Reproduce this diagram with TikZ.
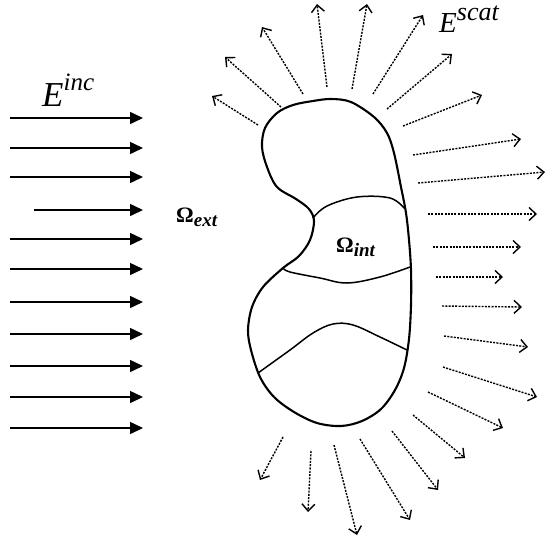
\documentclass[tikz,border=0pt]{standalone}
\usepackage{fontspec}
\newfontfamily\lblfont{Liberation Serif}
\usetikzlibrary{arrows.meta}
\newcommand{\supr}[2]{\raisebox{#1}{#2}}
\begin{document}
\begin{tikzpicture}[x=1pt,y=-1pt,
  inc/.style={line width=1.5pt,-{Triangle[length=13pt,width=12pt]}},
  scat/.style={line width=1.4pt,dash pattern=on 2pt off 1.3pt,-{Straight Barb[length=7pt,width=13pt,line width=1.4pt]}},
  body/.style={line width=2.1pt,line join=round},
  part/.style={line width=1.5pt},
  lbl/.style={inner sep=0pt,font=\lblfont}]
\useasboundingbox (0,0) rectangle (548,544);
% scatterer outline
\draw[body] plot[smooth cycle, tension=0.55] coordinates {
 (331,99) (351,102) (374,117) (387,133) (394,153) (401,187) (406,213) (409,240)
 (411,270) (411,305) (409,339) (404,368) (395,390) (381,409) (362,421) (341,426)
 (317,423) (294,412) (274,397) (260,377) (251,350) (248,330) (252,307) (263,287)
 (283,268) (299,256) (310,240) (314,221) (309,209) (296,199) (277,187) (267,167)
 (262,147) (265,128) (277,113) (293,105) (313,101)};
% internal partitions
\draw[part] plot[smooth, tension=0.6] coordinates {(313,218) (327,206) (357,197) (390,198) (405,209)};
\draw[part] plot[smooth, tension=0.6] coordinates {(283,268) (290,272) (320,278) (347,283) (380,277) (410,267)};
\draw[part] plot[smooth, tension=0.6] coordinates {(258,373) (290,350) (313,333) (333,324) (353,325) (380,337) (407,350)};
% incident field
\foreach \i/\xs/\yy in {1/10/118,2/10/148,3/10/177,4/34/210,5/10/239,6/10/269,7/10/302,8/10/334,9/10/366,10/10/397,11/10/428}{
  \coordinate (it\i) at (\xs,\yy);
  \coordinate (ih\i) at (143,\yy);
  \draw[inc] (it\i) -- (ih\i);
}
% scattered field
\foreach \i/\ax/\ay/\bx/\by in {
 1/258/125/212/96, 2/281/107/225/57, 3/303/94/262/27, 4/327/87/317/4,
 5/352/89/367/4, 6/373/94/423/15, 7/387/109/452/54, 8/403/126/482/95,
 9/413/155/521/139, 10/418/183/545/172, 11/428/214/537/214, 12/433/247/521/247,
 13/436/277/503/277, 14/442/306/522/307, 15/444/336/528/347, 16/443/367/537/397,
 17/428/392/503/428, 18/413/415/465/458, 19/392/431/438/490, 20/360/439/410/520,
 21/334/445/357/535, 22/311/451/308/512, 23/283/437/260/480}{
  \coordinate (st\i) at (\ax,\ay);
  \coordinate (sh\i) at (\bx,\by);
  \draw[scat] (st\i) -- (sh\i);
}
% labels
\node[lbl,anchor=base west] (einc) at (42,106)
  {\fontsize{35}{40}\selectfont\itshape E\supr{16pt}{\fontsize{25}{28}\selectfont inc}};
\node[lbl,anchor=base west] (escat) at (439,32)
  {\fontsize{29}{32}\selectfont\itshape E\supr{12pt}{\fontsize{26}{28}\selectfont scat}};
\node[lbl,anchor=base west] (oext) at (176,222)
  {\fontsize{22}{26}\selectfont\bfseries Ω\supr{-4pt}{\fontsize{19}{22}\selectfont\itshape ext}};
\node[lbl,anchor=base west] (oint) at (336,252)
  {\fontsize{22}{26}\selectfont\bfseries Ω\supr{-4pt}{\fontsize{19}{22}\selectfont\itshape int}};
\end{tikzpicture}
\end{document}
